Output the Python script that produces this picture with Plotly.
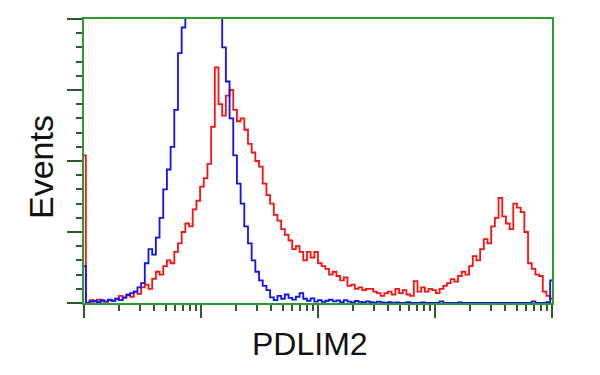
import numpy as np
import plotly.graph_objects as go

# Histogram channels: 128 bins spanning 4 log decades (10^0 .. 10^4)
n_bins = 128

# Events (% of max) per bin
blue_counts = [
    13, 0, 0.5, 0.8, 0.3, 1.0, 0.6, 1.2, 0.8, 1.5,
    1.0, 2.0, 2.8, 3.5, 4.0, 5.5, 7.0, 14, 19, 17,
    23, 30, 40, 47, 55, 68, 88, 97, 104, 110,
    118, 124, 128, 130, 127, 121, 113, 103, 90, 78,
    65, 52, 42, 35, 27, 21, 15, 11, 8, 6,
    4.5, 2, 1, 2.5, 1.5, 3, 1.8, 1.2, 2.2, 3.5,
    1.5, 0.8, 1.6, 0.5, 1.0, 0.4, 0.8, 1.2, 0.6, 0.9,
    0.3, 1.0, 0.5, 0.2, 0.7, 0.4, 0.2, 0.6, 0.3, 0.1,
    0.5, 0.2, 0, 0.3, 0, 0.2, 0, 0, 0.3, 0,
    0, 0, 0.2, 0, 0, 0, 0, 0.6, 0, 0,
    0, 0, 0.2, 0, 0, 0, 0, 0, 0, 0,
    0, 0, 0, 0, 0, 0, 0, 0, 0, 0,
    0, 0, 0.6, 0, 0, 0, 0.3, 8,
]

red_counts = [
    52, 0, 1.0, 0.5, 1.2, 0.6, 0.4, 1.0, 0.7, 1.5,
    2.5, 1.8, 3.0, 2.2, 4.0, 3.2, 5.5, 6.5, 5.0, 8.5,
    11, 10, 13, 15, 14, 18, 21, 25, 28, 27,
    33, 36, 41, 44, 49, 62, 83, 70, 66, 73,
    75, 68, 64, 65, 61, 56, 53, 50, 48, 42,
    38, 35, 31, 29, 26, 24, 22, 19, 20, 18,
    15, 18, 16, 18, 14, 13, 12, 10, 11, 9.5,
    8, 9, 6, 6.5, 5, 5.5, 4.5, 5, 5, 4,
    3.5, 2.5, 3.5, 4, 3, 5, 3.5, 4.5, 3, 2.5,
    7.7, 4, 5.5, 4, 5, 4.5, 3.5, 5, 6, 7,
    8.4, 7.5, 9.5, 11, 10, 13, 16.5, 15, 19, 22.5,
    21, 27, 30, 37, 30.5, 28, 26, 35, 33.6, 32,
    25, 14, 12, 10, 9.5, 4, 2.5, 1.5,
]

# channel positions on the log scale
channels = np.logspace(0, 4, n_bins)

major_ticks = [1, 10, 100, 1000, 10000]
minor_ticks = [m * 10 ** d for d in range(4) for m in range(2, 10)]

axis_green = "#2e9a2e"
tick_dark = "#2f5a2f"

fig = go.Figure()
fig.add_trace(go.Scatter(x=channels, y=red_counts, mode="lines",
                         line=dict(color="#ff1010", width=1.8, shape="hvh"),
                         hoverinfo="skip", showlegend=False))
fig.add_trace(go.Scatter(x=channels, y=blue_counts, mode="lines",
                         line=dict(color="#1010ff", width=1.8, shape="hvh"),
                         hoverinfo="skip", showlegend=False))

fig.update_layout(
    width=600, height=375,
    margin=dict(l=84, r=48, t=19, b=72),
    paper_bgcolor="white", plot_bgcolor="white",
    font=dict(family="Liberation Sans, Arial, sans-serif", color="#111111"),
    xaxis=dict(
        type="log", range=[0, 4],
        showline=True, linecolor=axis_green, linewidth=2, mirror=True,
        showgrid=False, zeroline=False,
        tickmode="array", tickvals=major_ticks, showticklabels=False,
        ticks="outside", ticklen=13, tickwidth=2, tickcolor=tick_dark,
        minor=dict(tickmode="array", tickvals=minor_ticks, ticks="outside",
                   ticklen=6, tickwidth=2, tickcolor=tick_dark, showgrid=False),
    ),
    yaxis=dict(
        range=[0, 100],
        showline=True, linecolor=axis_green, linewidth=2, mirror=True,
        showgrid=False, zeroline=False,
        tickmode="array", tickvals=[0, 25, 50, 75, 100], showticklabels=False,
        ticks="outside", ticklen=15, tickwidth=2, tickcolor=tick_dark,
        minor=dict(tickmode="array",
                   tickvals=[v for v in range(5, 100, 5) if v % 25],
                   ticks="outside", ticklen=6, tickwidth=2, tickcolor=tick_dark,
                   showgrid=False),
    ),
    annotations=[
        dict(text="PDLIM2", xref="paper", yref="paper", x=(310 - 84) / 468,
             y=-(344 - 303) / 284, xanchor="center", yanchor="middle",
             showarrow=False, font=dict(size=32, color="#111111")),
        dict(text="Events", xref="paper", yref="paper", x=-(84 - 41) / 468,
             y=(303 - 167) / 284, xanchor="center", yanchor="middle",
             textangle=-90, showarrow=False, font=dict(size=34, color="#111111")),
    ],
)

fig.write_html("out.html")
